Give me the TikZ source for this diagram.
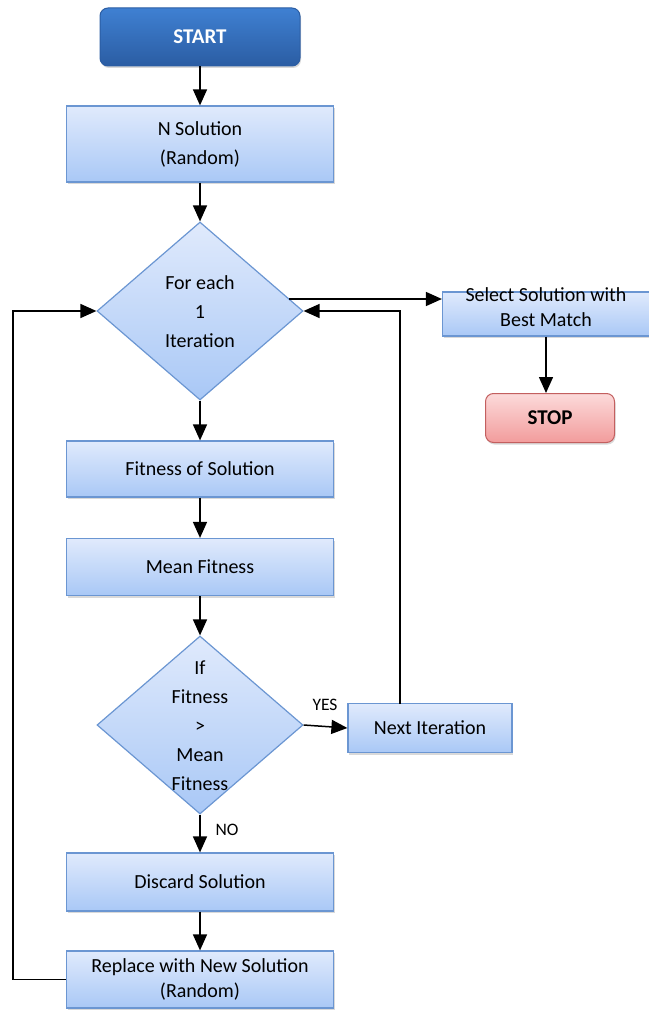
\documentclass[tikz,border=0pt]{standalone}
\usepackage{fontspec}
\setmainfont{Carlito}
\usetikzlibrary{shapes.geometric,arrows.meta,shadows,calc}
\definecolor{boxtop}{HTML}{E0EAFC}
\definecolor{boxbot}{HTML}{A9C8F6}
\definecolor{boxline}{HTML}{6B96D2}
\definecolor{starttop}{HTML}{3F80D2}
\definecolor{startbot}{HTML}{2B5DA3}
\definecolor{stoptop}{HTML}{FCDADA}
\definecolor{stopbot}{HTML}{F29C9C}
\definecolor{stopline}{HTML}{C35F5F}
\tikzset{
  txtfont/.style={font=\fontsize{20}{29}\selectfont},
  tightfont/.style={font=\fontsize{20}{25}\selectfont},
  procbox/.style={rectangle, draw=boxline, line width=1.2pt, top color=boxtop, bottom color=boxbot,
    align=center, txtfont, inner sep=0pt,
    drop shadow={shadow xshift=1pt, shadow yshift=-2pt, opacity=0.3, fill=gray}},
  decbox/.style={diamond, draw=boxline, line width=1.2pt, top color=boxtop, bottom color=boxbot,
    inner sep=0pt, minimum width=206pt, minimum height=178pt, aspect=1.16},
  lbl/.style={align=center, txtfont, inner sep=0pt},
  startbox/.style={rectangle, rounded corners=8pt, draw=startbot, line width=1pt, top color=starttop, bottom color=startbot,
    text=white, font=\fontsize{21}{24}\selectfont\bfseries, minimum width=200pt, minimum height=58pt,
    drop shadow={shadow xshift=1pt, shadow yshift=-2pt, opacity=0.3, fill=gray}},
  stopbox/.style={rectangle, rounded corners=8pt, draw=stopline, line width=1pt, top color=stoptop, bottom color=stopbot,
    font=\fontsize{21}{24}\selectfont\bfseries, minimum width=129pt, minimum height=49pt,
    drop shadow={shadow xshift=1pt, shadow yshift=-2pt, opacity=0.3, fill=gray}},
  arr/.style={line width=1.5pt, -{Triangle[length=16pt,width=14pt]}},
  small/.style={font=\fontsize{17.5}{20}\selectfont, inner sep=0pt}
}
\begin{document}
\begin{tikzpicture}[x=1pt,y=-1pt]
\useasboundingbox (0,0) rectangle (648,1011);

\node[startbox] (start) at (200,37) {START};
\node[procbox, minimum width=267pt, minimum height=76pt] (nsol) at (200,144) {N Solution\\(Random)};
\node[decbox] (d1) at (200,311) {};
\node[lbl] (d1t) at (200,312) {For each\\1\\Iteration};
\node[procbox, minimum width=207pt, minimum height=44pt] (select) at (546,314) {};
\node[lbl, tightfont] (selectt) at (546,307) {Select Solution with\\Best Match};
\node[stopbox] (stop) at (550,418) {STOP};
\node[procbox, minimum width=267pt, minimum height=56pt] (fit) at (200,469) {Fitness of Solution};
\node[procbox, minimum width=267pt, minimum height=57pt] (mean) at (200,567) {Mean Fitness};
\node[decbox] (d2) at (200,725) {};
\node[lbl] (d2t) at (200,726) {If\\Fitness\\>\\Mean\\Fitness};
\node[procbox, minimum width=164pt, minimum height=49pt] (next) at (430,728) {Next Iteration};
\node[procbox, minimum width=267pt, minimum height=58pt] (disc) at (200,882) {Discard Solution};
\node[procbox, tightfont, minimum width=267pt, minimum height=57pt] (repl) at (200,979.5) {Replace with New Solution\\(Random)};

\node[small] (yes) at (325,705) {YES};
\node[small] (no) at (227,830) {NO};

\coordinate (d1o) at (289,299);
\coordinate (nexttop) at (400,703.5);

\draw[arr] (start.south) -- (nsol.north);
\draw[arr] (nsol.south) -- (d1.north);
\draw[arr] (d1o) -- (select.west |- d1o);
\draw[arr] (select.south) -- (select.south |- stop.north);
\draw[arr] (d1.south) -- (fit.north);
\draw[arr] (fit.south) -- (mean.north);
\draw[arr] (mean.south) -- (d2.north);
\draw[arr] (d2.east) -- (next.west);
\draw[arr] (d2.south) -- (disc.north);
\draw[arr] (disc.south) -- (repl.north);
\draw[arr] (repl.west) -- ++(-53,0) |- (d1.west);
\draw[arr] (nexttop) |- (d1.east);
\end{tikzpicture}
\end{document}
